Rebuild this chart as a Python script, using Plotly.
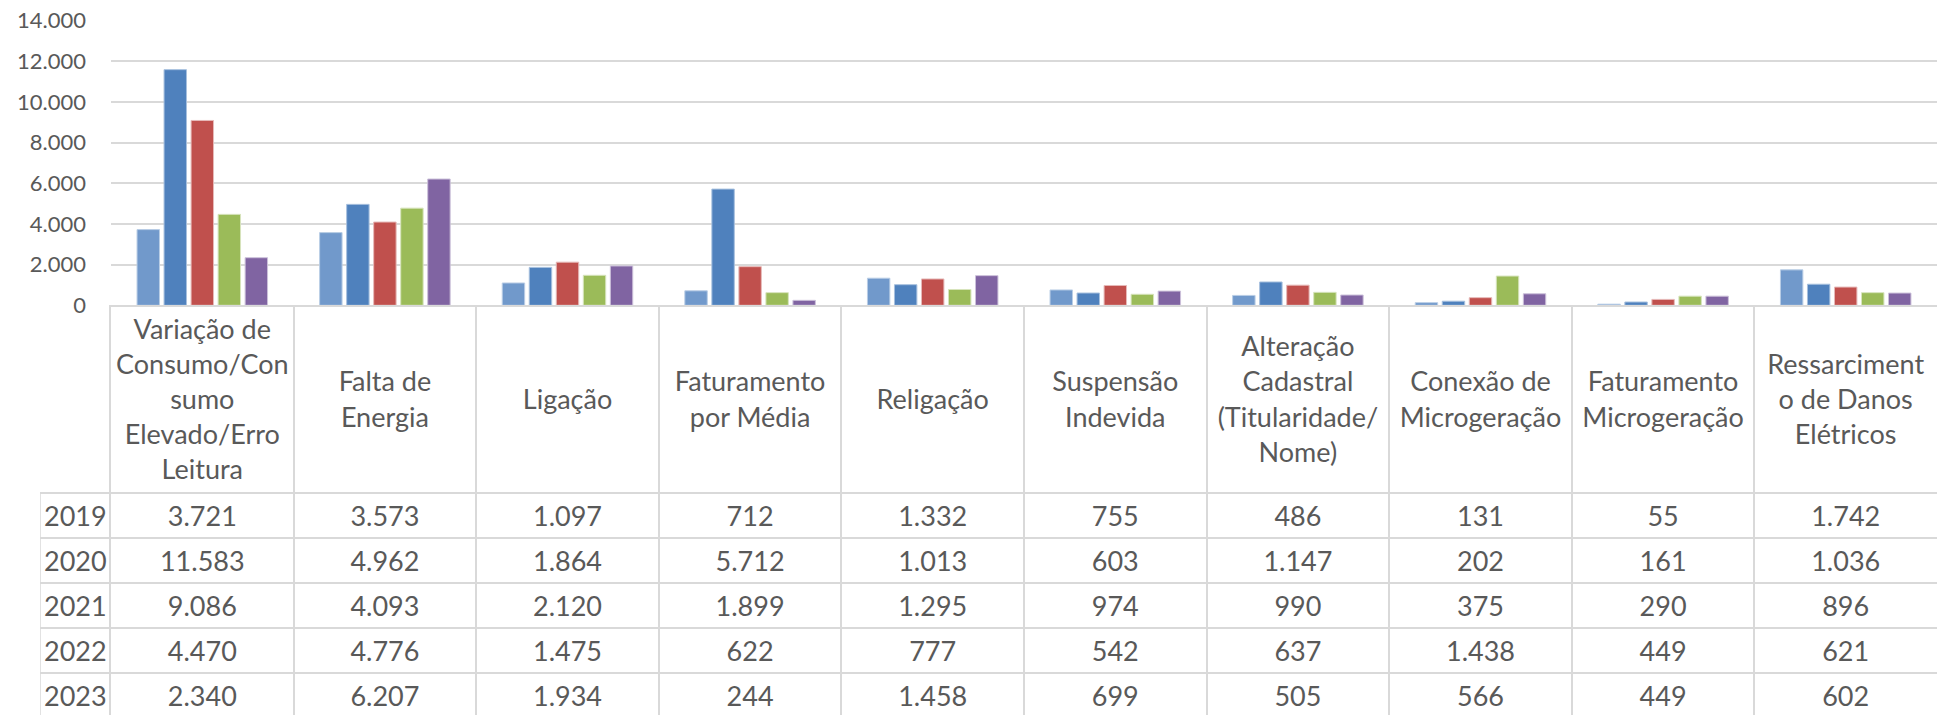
import plotly.graph_objects as go

# ---------------- data ----------------
categories = [
    "Variação de Consumo/Consumo Elevado/Erro Leitura",
    "Falta de Energia",
    "Ligação",
    "Faturamento por Média",
    "Religação",
    "Suspensão Indevida",
    "Alteração Cadastral (Titularidade/Nome)",
    "Conexão de Microgeração",
    "Faturamento Microgeração",
    "Ressarcimento de Danos Elétricos",
]
header_labels = [
    "Variação de<br>Consumo/Con<br>sumo<br>Elevado/Erro<br>Leitura",
    "Falta de<br>Energia",
    "Ligação",
    "Faturamento<br>por Média",
    "Religação",
    "Suspensão<br>Indevida",
    "Alteração<br>Cadastral<br>(Titularidade/<br>Nome)",
    "Conexão de<br>Microgeração",
    "Faturamento<br>Microgeração",
    "Ressarciment<br>o de Danos<br>Elétricos",
]
years = ["2019", "2020", "2021", "2022", "2023"]
v2019 = [3721, 3573, 1097, 712, 1332, 755, 486, 131, 55, 1742]
v2020 = [11583, 4962, 1864, 5712, 1013, 603, 1147, 202, 161, 1036]
v2021 = [9086, 4093, 2120, 1899, 1295, 974, 990, 375, 290, 896]
v2022 = [4470, 4776, 1475, 622, 777, 542, 637, 1438, 449, 621]
v2023 = [2340, 6207, 1934, 244, 1458, 699, 505, 566, 449, 602]
series = [v2019, v2020, v2021, v2022, v2023]
y_ticks = [0, 2000, 4000, 6000, 8000, 10000, 12000, 14000]

# ---------------- style ----------------
W, H = 1937, 715
fills = ["#7199CB", "#4F81BD", "#C0504D", "#9BBB59", "#8064A2"]
edges = ["#B9CDE5", "#A7C0DE", "#E6B9B8", "#D7E4BD", "#CCC1DA"]
TXT = "#595959"
GRID = "#D9D9D9"
FONT = "Lato"

x_left = 111 / W
bar_bottom_px, bar_top_px = 305.3, 20.5
table_top_px = bar_bottom_px
header_h, row_h = 188.0, 45.0
text_shift = 3
table_span = H - table_top_px  # table subplot height in px units

fig = go.Figure()

for yr, vals, fc, ec in zip(years, series, fills, edges):
    fig.add_trace(go.Bar(
        x=categories, y=vals, name=yr,
        marker=dict(color=fc, line=dict(color=ec, width=1)),
        xaxis="x", yaxis="y", hoverinfo="skip",
    ))

# header text row of the data table
fig.add_trace(go.Scatter(
    x=categories, y=[header_h / 2 + text_shift] * len(categories), mode="text",
    text=header_labels, textposition="middle center",
    textfont=dict(family=FONT, size=27, color=TXT),
    xaxis="x2", yaxis="y2", showlegend=False, hoverinfo="skip",
))

# value rows
def fmt(v):
    return f"{v:,}".replace(",", ".")

for r, vals in enumerate(series):
    yc = header_h + row_h * (r + 0.5) + text_shift
    fig.add_trace(go.Scatter(
        x=categories, y=[yc] * len(vals), mode="text",
        text=[fmt(v) for v in vals], textposition="middle center",
        textfont=dict(family=FONT, size=27, color=TXT),
        xaxis="x2", yaxis="y2", showlegend=False, hoverinfo="skip",
    ))

# year labels column
fig.add_trace(go.Scatter(
    x=[4] * len(years),
    y=[header_h + row_h * (r + 0.5) + text_shift for r in range(len(years))],
    mode="text", text=years, textposition="middle right",
    textfont=dict(family=FONT, size=27, color=TXT),
    xaxis="x3", yaxis="y2", showlegend=False, hoverinfo="skip",
))

# left border of year column
fig.add_shape(type="line", xref="x3", yref="y2", x0=0, x1=0,
              y0=header_h, y1=table_span + 5, line=dict(color=GRID, width=1.5))

row_bounds = [header_h + row_h * k for k in range(len(years))]

fig.update_layout(
    width=W, height=H,
    margin=dict(l=0, r=0, t=0, b=0),
    paper_bgcolor="white", plot_bgcolor="rgba(0,0,0,0)",
    separators=",.",
    barmode="group", bargap=0.26, bargroupgap=0.17,
    showlegend=False,
    font=dict(family=FONT, color=TXT),
    xaxis=dict(
        domain=[x_left, 1], anchor="y", type="category",
        categoryorder="array", categoryarray=categories,
        showticklabels=False, ticks="", showgrid=False,
        showline=True, linecolor=GRID, linewidth=1.5, zeroline=False,
        automargin=False,
    ),
    yaxis=dict(
        domain=[1 - bar_bottom_px / H, 1 - bar_top_px / H], anchor="x",
        range=[0, 14000], tickvals=y_ticks, tickformat=",d",
        showgrid=True, gridcolor=GRID, gridwidth=1.5, zeroline=False,
        showline=False, ticks="", ticklabelstandoff=24,
        tickfont=dict(family=FONT, size=22, color=TXT), automargin=False,
    ),
    xaxis2=dict(
        domain=[x_left, 1], anchor="y2", type="category",
        categoryorder="array", categoryarray=categories,
        range=[-0.5, len(categories) - 0.5],
        showticklabels=False, ticks="", tickson="boundaries",
        showgrid=True, gridcolor=GRID, gridwidth=1.5,
        showline=False, zeroline=False, automargin=False,
    ),
    yaxis2=dict(
        domain=[0, 1 - table_top_px / H], anchor="x2",
        range=[table_span, 0], tickvals=row_bounds,
        showticklabels=False, ticks="",
        showgrid=True, gridcolor=GRID, gridwidth=1.5,
        showline=True, linecolor=GRID, linewidth=1.5,
        zeroline=False, automargin=False,
    ),
    xaxis3=dict(
        domain=[40 / W, x_left], anchor="y2", range=[0, 111 - 40],
        showticklabels=False, ticks="", showgrid=False, showline=False,
        zeroline=False, automargin=False,
    ),
)

fig.write_html("out.html", include_plotlyjs=True,
               config={"displayModeBar": False},
               post_script="document.body.style.margin='0';")
